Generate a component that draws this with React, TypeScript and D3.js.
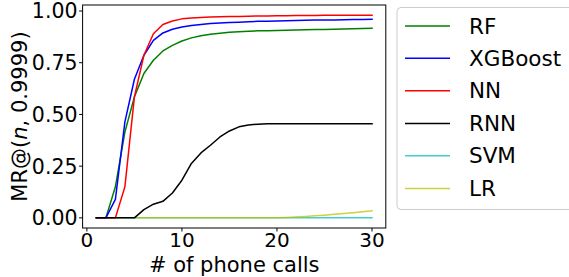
import React from "react";
import * as d3 from "d3";

const calls = d3.range(1, 31);
const rf = [0, 0, 0.15, 0.415, 0.585, 0.698, 0.762, 0.807, 0.834, 0.855, 0.87, 0.88, 0.888, 0.893, 0.897, 0.9, 0.902, 0.904, 0.905, 0.906, 0.907, 0.908, 0.909, 0.91, 0.911, 0.912, 0.913, 0.914, 0.915, 0.916];
const xgb = [0, 0, 0.089, 0.464, 0.67, 0.786, 0.858, 0.894, 0.912, 0.923, 0.93, 0.935, 0.939, 0.942, 0.944, 0.946, 0.948, 0.95, 0.951, 0.952, 0.953, 0.954, 0.955, 0.956, 0.957, 0.957, 0.958, 0.959, 0.959, 0.96];
const nn = [0, 0, 0, 0.15, 0.585, 0.786, 0.89, 0.935, 0.952, 0.962, 0.966, 0.969, 0.971, 0.972, 0.973, 0.974, 0.975, 0.976, 0.976, 0.977, 0.977, 0.978, 0.978, 0.978, 0.979, 0.979, 0.979, 0.979, 0.979, 0.979];
const rnn = [0, 0, 0, 0, 0, 0.04, 0.066, 0.08, 0.12, 0.182, 0.263, 0.314, 0.351, 0.391, 0.42, 0.44, 0.449, 0.453, 0.455, 0.455, 0.455, 0.455, 0.455, 0.455, 0.455, 0.455, 0.455, 0.455, 0.455, 0.455];
const svm = [0, 0, 0, 0, 0, 0, 0, 0, 0, 0, 0, 0, 0, 0, 0, 0, 0, 0, 0, 0, 0, 0, 0, 0, 0, 0, 0, 0, 0, 0];
const lr = [0, 0, 0, 0, 0, 0, 0, 0, 0, 0, 0, 0, 0, 0, 0, 0, 0, 0, 0, 0.001, 0.002, 0.004, 0.007, 0.01, 0.013, 0.017, 0.021, 0.025, 0.029, 0.034];

const xTicks = [0, 10, 20, 30];
const yTicks = [0, 0.25, 0.5, 0.75, 1.0];

const series = [
  { name: "RF", values: rf, color: "#008000", opacity: 1 },
  { name: "XGBoost", values: xgb, color: "#0000ff", opacity: 1 },
  { name: "NN", values: nn, color: "#ff0000", opacity: 1 },
  { name: "RNN", values: rnn, color: "#000000", opacity: 1 },
  { name: "SVM", values: svm, color: "#00bfbf", opacity: 0.75 },
  { name: "LR", values: lr, color: "#bfbf00", opacity: 0.75 },
];
const drawOrder = ["SVM", "LR", "RF", "XGBoost", "NN", "RNN"];

const W = 569, H = 277;
const L = 82.6, R = 385.8, T = 5, B = 228;
const FONT = "DejaVu Sans";

export default function App() {
  const x = d3.scaleLinear().domain([-0.45, 31.45]).range([L, R]);
  const y = d3.scaleLinear().domain([-0.049, 1.029]).range([B, T]);
  const line = d3.line<number>().x((_, i) => x(calls[i])).y((d) => y(d));

  const legendX = 397, legendY = 7.5;
  const rowY = [26, 58.3, 90.7, 123.5, 155.7, 188.5];

  return (
    <svg width={W} height={H} style={{ position: "absolute", left: 0, top: 0, background: "white" }} fontFamily={FONT}>
      <rect x={0} y={0} width={W} height={H} fill="white" />
      <defs>
        <clipPath id="plot">
          <rect x={L} y={T} width={R - L} height={B - T} />
        </clipPath>
      </defs>
      <g clipPath="url(#plot)">
        {drawOrder.map((nm) => {
          const s = series.find((q) => q.name === nm)!;
          return (
            <path key={nm} d={line(s.values) || ""} fill="none" stroke={s.color} strokeOpacity={s.opacity} strokeWidth={1.5} strokeLinejoin="round" strokeLinecap="square" />
          );
        })}
      </g>
      <rect x={L} y={T} width={R - L} height={B - T} fill="none" stroke="black" strokeWidth={1} />
      {xTicks.map((t) => (
        <g key={"x" + t}>
          <line x1={x(t)} x2={x(t)} y1={B} y2={B + 3.5} stroke="black" strokeWidth={1} />
          <text x={x(t)} y={247.3} textAnchor="middle" fontSize={20} fill="black">{t}</text>
        </g>
      ))}
      {yTicks.map((t) => (
        <g key={"y" + t}>
          <line x1={L - 3.5} x2={L} y1={y(t)} y2={y(t)} stroke="black" strokeWidth={1} />
          <text x={77.5} y={y(t)} dy="0.36em" textAnchor="end" fontSize={20.5} fill="black">{d3.format(".2f")(t)}</text>
        </g>
      ))}
      <text x={(L + R) / 2} y={271.5} textAnchor="middle" fontSize={21} fill="black"># of phone calls</text>
      <text transform={`translate(26.5, ${(T + B) / 2}) rotate(-90)`} textAnchor="middle" fontSize={21} fill="black">
        MR@(<tspan fontStyle="italic">n</tspan>, 0.9999)
      </text>
      <rect x={legendX} y={legendY} width={200} height={202} rx={4} ry={4} fill="white" fillOpacity={0.8} stroke="#cccccc" strokeWidth={1} />
      {series.map((s, i) => (
        <g key={"lg" + s.name}>
          <line x1={405} x2={450} y1={rowY[i]} y2={rowY[i]} stroke={s.color} strokeOpacity={s.opacity} strokeWidth={1.5} />
          <text x={469} y={rowY[i]} dy="0.36em" fontSize={21.5} fill="black">{s.name}</text>
        </g>
      ))}
    </svg>
  );
}
